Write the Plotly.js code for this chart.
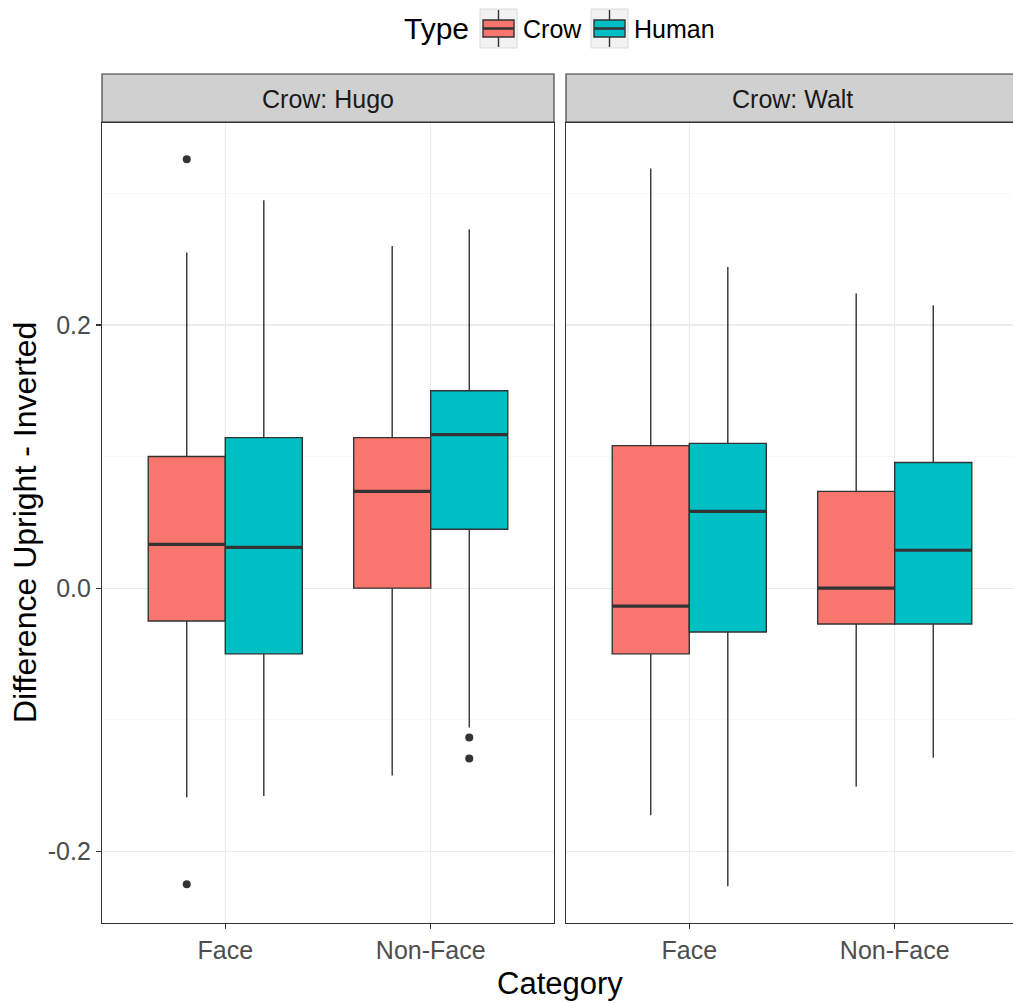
<!DOCTYPE html>
<html>
<head>
<meta charset="utf-8">
<script src="https://cdn.plot.ly/plotly-3.0.1.min.js"></script>
<style>
  html, body { margin: 0; padding: 0; overflow: hidden; background: #fff; }
  #chart { width: 1021px; height: 1003px; }
</style>
</head>
<body>
<div id="chart"></div>
<script>
// Categories and facets
const categories = ['Face', 'Non-Face'];
const crows = ['Hugo', 'Walt'];
const types = ['Crow', 'Human'];

// Box statistics per facet and type, one value per category (Face, Non-Face)
const hugoCrowLower  = [-0.159, -0.1424];
const hugoCrowQ1     = [-0.025, 0.0];
const hugoCrowMedian = [0.0333, 0.0735];
const hugoCrowQ3     = [0.100, 0.1144];
const hugoCrowUpper  = [0.255, 0.260];

const hugoHumanLower  = [-0.158, -0.106];
const hugoHumanQ1     = [-0.050, 0.0447];
const hugoHumanMedian = [0.031, 0.1167];
const hugoHumanQ3     = [0.1144, 0.150];
const hugoHumanUpper  = [0.2947, 0.2727];

const waltCrowLower  = [-0.1727, -0.1508];
const waltCrowQ1     = [-0.050, -0.0273];
const waltCrowMedian = [-0.0136, 0.0];
const waltCrowQ3     = [0.1083, 0.0735];
const waltCrowUpper  = [0.319, 0.224];

const waltHumanLower  = [-0.2265, -0.129];
const waltHumanQ1     = [-0.0333, -0.0273];
const waltHumanMedian = [0.0583, 0.0288];
const waltHumanQ3     = [0.110, 0.0955];
const waltHumanUpper  = [0.244, 0.215];

// Outlying points
const outlierCrow     = ['Hugo', 'Hugo', 'Hugo', 'Hugo'];
const outlierType     = ['Crow', 'Crow', 'Human', 'Human'];
const outlierCategory = ['Face', 'Face', 'Non-Face', 'Non-Face'];
const outlierValue    = [0.326, -0.225, -0.1136, -0.1295];

// ggplot2-like styling
const fills = { Crow: '#F8766D', Human: '#00BFC4' };
const ink = '#333333';
const FONT = 'Liberation Sans, Arial, sans-serif';
const W = 1021, H = 1003;
const dodge = 0.1875, boxW = 0.375;

// Panel geometry in pixels
const panels = {
  Hugo: { x0: 102, x1: 554, xa: 'x', ya: 'y' },
  Walt: { x0: 566, x1: 1018, xa: 'x2', ya: 'y2' }
};
const panelTop = 123, panelBottom = 923, stripTop = 74;
const px = v => v / W;
const py = v => (H - v) / H;

const stats = {
  Hugo: {
    Crow:  [hugoCrowLower, hugoCrowQ1, hugoCrowMedian, hugoCrowQ3, hugoCrowUpper],
    Human: [hugoHumanLower, hugoHumanQ1, hugoHumanMedian, hugoHumanQ3, hugoHumanUpper]
  },
  Walt: {
    Crow:  [waltCrowLower, waltCrowQ1, waltCrowMedian, waltCrowQ3, waltCrowUpper],
    Human: [waltHumanLower, waltHumanQ1, waltHumanMedian, waltHumanQ3, waltHumanUpper]
  }
};

const pos = (cat, type) => categories.indexOf(cat) + 1 + (type === 'Crow' ? -dodge : dodge);

const traces = [];
crows.forEach(crow => {
  const p = panels[crow];
  types.forEach(type => {
    const [lo, q1, med, q3, hi] = stats[crow][type];
    traces.push({
      type: 'box',
      name: type,
      showlegend: false,
      x: categories.map(c => pos(c, type)),
      lowerfence: lo, q1: q1, median: med, q3: q3, upperfence: hi,
      width: boxW,
      whiskerwidth: 0,
      boxpoints: false,
      fillcolor: fills[type],
      line: { color: ink, width: 1.4 },
      xaxis: p.xa, yaxis: p.ya,
      hoverinfo: 'skip'
    });
  });
});

// Thicker median bars drawn over each box
crows.forEach(crow => {
  const p = panels[crow];
  types.forEach(type => {
    const med = stats[crow][type][2];
    const xs = [], ys = [];
    categories.forEach((c, i) => {
      const cx = pos(c, type);
      xs.push(cx - boxW / 2, cx + boxW / 2, null);
      ys.push(med[i], med[i], null);
    });
    traces.push({
      type: 'scatter', mode: 'lines', x: xs, y: ys,
      line: { color: ink, width: 3.2 },
      showlegend: false, hoverinfo: 'skip',
      xaxis: p.xa, yaxis: p.ya
    });
  });
});

// Outlier points
crows.forEach(crow => {
  const p = panels[crow];
  const xs = [], ys = [];
  outlierValue.forEach((v, i) => {
    if (outlierCrow[i] === crow) {
      xs.push(pos(outlierCategory[i], outlierType[i]));
      ys.push(v);
    }
  });
  if (xs.length) {
    traces.push({
      type: 'scatter', mode: 'markers', x: xs, y: ys,
      marker: { color: ink, size: 8 },
      showlegend: false, hoverinfo: 'skip',
      xaxis: p.xa, yaxis: p.ya
    });
  }
});

const yRange = [-0.2545, 0.3535];
const xCommon = {
  range: [0.4, 2.6],
  tickvals: [1, 2],
  ticktext: categories,
  showgrid: true, gridcolor: '#EBEBEB', gridwidth: 1.1,
  zeroline: false,
  showline: true, mirror: true, linecolor: ink, linewidth: 1.1,
  ticks: 'outside', ticklen: 5, tickcolor: ink, tickwidth: 1.1,
  tickfont: { family: FONT, size: 25, color: '#4D4D4D' },
  fixedrange: true
};
const yCommon = {
  range: yRange,
  tickvals: [-0.2, 0.0, 0.2],
  ticktext: ['-0.2', '0.0', '0.2'],
  showgrid: true, gridcolor: '#EBEBEB', gridwidth: 1.1,
  minor: { tickvals: [-0.1, 0.1, 0.3], showgrid: true, gridcolor: '#F4F4F4', gridwidth: 0.6, ticks: '' },
  zeroline: false,
  showline: true, mirror: true, linecolor: ink, linewidth: 1.1,
  ticks: 'outside', ticklen: 5, tickcolor: ink, tickwidth: 1.1,
  tickfont: { family: FONT, size: 25, color: '#4D4D4D' },
  domain: [py(panelBottom), py(panelTop)],
  fixedrange: true
};

const shapes = [];
const annotations = [];

// Facet strips
crows.forEach(crow => {
  const p = panels[crow];
  shapes.push({
    type: 'rect', xref: 'paper', yref: 'paper',
    x0: px(p.x0), x1: px(p.x1), y0: py(panelTop - 1), y1: py(stripTop),
    fillcolor: '#D0D0D0', line: { color: ink, width: 1.1 }, layer: 'above'
  });
  annotations.push({
    xref: 'paper', yref: 'paper',
    x: px((p.x0 + p.x1) / 2), y: py((panelTop + stripTop) / 2),
    xanchor: 'center', yanchor: 'middle', showarrow: false,
    text: 'Crow: ' + crow,
    font: { family: FONT, size: 25, color: '#1A1A1A' }
  });
});

// Legend at the top: title, then a boxplot key and label per type
const legendMid = 29;
annotations.push({
  xref: 'paper', yref: 'paper', x: px(402), y: py(legendMid),
  xanchor: 'left', yanchor: 'middle', showarrow: false,
  text: 'Type', font: { family: FONT, size: 30, color: '#000' }
});
const keyLeft = { Crow: 480, Human: 591 };
types.forEach(type => {
  const k = keyLeft[type];
  shapes.push({ type: 'rect', xref: 'paper', yref: 'paper',
    x0: px(k), x1: px(k + 37), y0: py(legendMid + 19), y1: py(legendMid - 20),
    fillcolor: '#F2F2F2', line: { color: '#DADADA', width: 1 } });
  shapes.push({ type: 'line', xref: 'paper', yref: 'paper',
    x0: px(k + 18.5), x1: px(k + 18.5), y0: py(legendMid + 18), y1: py(legendMid - 19),
    line: { color: ink, width: 1.4 } });
  shapes.push({ type: 'rect', xref: 'paper', yref: 'paper',
    x0: px(k + 3), x1: px(k + 34), y0: py(legendMid + 8), y1: py(legendMid - 9),
    fillcolor: fills[type], line: { color: ink, width: 1.4 } });
  shapes.push({ type: 'line', xref: 'paper', yref: 'paper',
    x0: px(k + 3), x1: px(k + 34), y0: py(legendMid - 0.5), y1: py(legendMid - 0.5),
    line: { color: ink, width: 2.6 } });
  annotations.push({
    xref: 'paper', yref: 'paper', x: px(k + 41), y: py(legendMid),
    xanchor: 'left', yanchor: 'middle', showarrow: false,
    text: type, font: { family: FONT, size: 25, color: '#000' }
  });
});

// Axis titles, centred on the panel area
annotations.push({
  xref: 'paper', yref: 'paper',
  x: px((panels.Hugo.x0 + panels.Walt.x1) / 2), y: py(983),
  xanchor: 'center', yanchor: 'middle', showarrow: false,
  text: 'Category', font: { family: FONT, size: 31, color: '#000' }
});
annotations.push({
  xref: 'paper', yref: 'paper',
  x: px(25), y: py((panelTop + panelBottom) / 2),
  xanchor: 'center', yanchor: 'middle', showarrow: false, textangle: -90,
  text: 'Difference Upright - Inverted', font: { family: FONT, size: 32, color: '#000' }
});

const layout = {
  width: W, height: H,
  margin: { l: 0, r: 0, t: 0, b: 0 },
  paper_bgcolor: '#fff', plot_bgcolor: '#fff',
  showlegend: false,
  xaxis: Object.assign({}, xCommon, { domain: [px(panels.Hugo.x0), px(panels.Hugo.x1)], anchor: 'y' }),
  yaxis: Object.assign({}, yCommon, { anchor: 'x' }),
  xaxis2: Object.assign({}, xCommon, { domain: [px(panels.Walt.x0), px(panels.Walt.x1)], anchor: 'y2' }),
  yaxis2: Object.assign({}, yCommon, { anchor: 'x2', showticklabels: false, ticks: '' }),
  shapes: shapes,
  annotations: annotations
};

Plotly.newPlot('chart', traces, layout, { staticPlot: true, displayModeBar: false });
</script>
</body>
</html>
